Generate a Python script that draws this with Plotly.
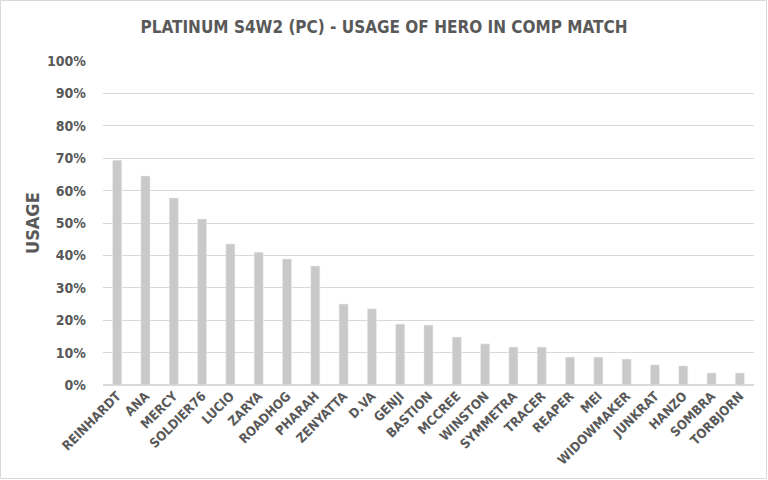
import plotly.graph_objects as go

# hero usage, platinum S4W2 (PC)
heroes = ['REINHARDT', 'ANA', 'MERCY', 'SOLDIER76', 'LUCIO', 'ZARYA', 'ROADHOG', 'PHARAH',
          'ZENYATTA', 'D.VA', 'GENJI', 'BASTION', 'MCCREE', 'WINSTON', 'SYMMETRA', 'TRACER',
          'REAPER', 'MEI', 'WIDOWMAKER', 'JUNKRAT', 'HANZO', 'SOMBRA', 'TORBJORN']
usage = [0.694, 0.645, 0.577, 0.512, 0.435, 0.41, 0.389, 0.367,
         0.25, 0.235, 0.188, 0.185, 0.148, 0.127, 0.117, 0.117,
         0.086, 0.086, 0.08, 0.062, 0.059, 0.037, 0.037]

W, H = 768, 480
ml, mr, mt, mb = 103, 14, 61, 95
pw, ph = W - ml - mr, H - mt - mb

font = 'DejaVu Sans Condensed, DejaVu Sans, sans-serif'
txt = '#595959'

fig = go.Figure(go.Bar(x=heroes, y=usage, marker_color='#c9c9c9'))

fig.update_layout(
    width=W, height=H,
    margin=dict(l=ml, r=mr, t=mt, b=mb, autoexpand=False),
    paper_bgcolor='white', plot_bgcolor='white',
    bargap=0.68,
    showlegend=False,
    font=dict(family=font, color=txt),
    title=dict(text='<b>PLATINUM S4W2 (PC) - USAGE OF HERO IN COMP MATCH</b>',
               x=0.5, xanchor='center', y=1 - 27 / H, yanchor='middle',
               font=dict(size=17, color=txt, family=font)),
)
fig.update_yaxes(range=[0, 1], tickformat='.0%', dtick=0.1, automargin=False,
                 showgrid=True, gridcolor='#d9d9d9', gridwidth=1,
                 zeroline=True, zerolinecolor='#d9d9d9',
                 tickfont=dict(size=14, family=font, color=txt),
                 ticklabelstandoff=16)
fig.update_xaxes(tickangle=-45, showline=False, automargin=False,
                 tickfont=dict(size=13, family=font, color=txt))

# tick labels in bold
fig.update_yaxes(tickprefix='<b>', ticksuffix='</b>')
fig.update_xaxes(tickprefix='<b>', ticksuffix='</b>')

# y axis title
fig.add_annotation(text='<b>USAGE</b>', xref='paper', yref='paper',
                   x=(32 - ml) / pw, y=0.5, textangle=-90, showarrow=False,
                   xanchor='center', yanchor='middle',
                   font=dict(size=18, family=font, color=txt))

# light border around the whole chart
fig.add_shape(type='rect', xref='paper', yref='paper',
              x0=(0.5 - ml) / pw, x1=(W - 1.5 - ml) / pw,
              y0=-(mb - 1.5) / ph, y1=1 + (mt - 0.5) / ph,
              line=dict(color='#d9d9d9', width=1))

# page body margin would shift the figure
fig.write_html('out.html', config={'displayModeBar': False},
               post_script="document.body.style.margin='0';")
